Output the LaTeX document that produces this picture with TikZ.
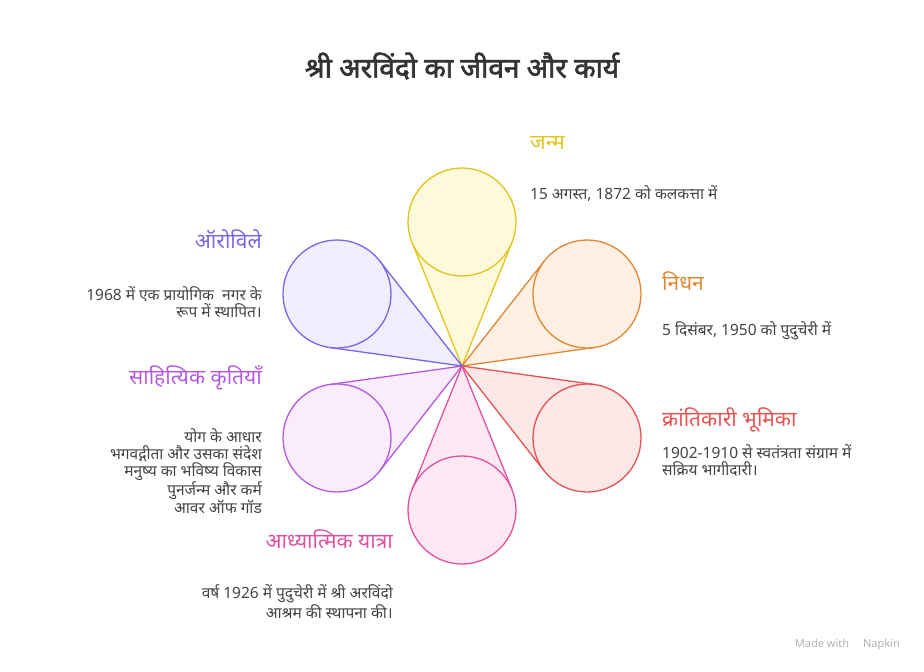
\documentclass[tikz,border=0pt]{standalone}
\usepackage{fontspec}
\setmainfont{Noto Sans}[Script=Devanagari]
\newfontfamily\grasfont{Noto Sans}[Script=Devanagari, FakeBold=2.2]
\usetikzlibrary{backgrounds,calc,positioning}
\definecolor{cJaune}{RGB}{226,196,26}
\definecolor{fJaune}{RGB}{255,249,219}
\definecolor{cOrange}{RGB}{224,135,50}
\definecolor{fOrange}{RGB}{255,240,227}
\definecolor{cRouge}{RGB}{229,83,83}
\definecolor{fRouge}{RGB}{253,232,232}
\definecolor{cRose}{RGB}{224,82,160}
\definecolor{fRose}{RGB}{253,232,244}
\definecolor{cMauve}{RGB}{180,90,224}
\definecolor{fMauve}{RGB}{249,236,253}
\definecolor{cViolet}{RGB}{120,104,230}
\definecolor{fViolet}{RGB}{240,238,253}
\definecolor{gris}{RGB}{68,68,68}
\definecolor{noir}{RGB}{51,51,51}
\tikzset{
  petale/.style={circle, minimum size=108pt, inner sep=0pt, outer sep=0pt, line width=1.3pt},
  titre/.style={inner sep=0pt, font=\fontsize{21}{25}\selectfont},
  texte/.style={inner sep=0pt, text=gris, font=\fontsize{15.5}{17}\selectfont},
  cone/.style={line width=1.3pt, line join=round}
}

\begin{document}
\begin{tikzpicture}[x=1pt,y=-1pt]
\useasboundingbox (0,0) rectangle (924,672);
\node [inner sep=0pt, text=noir, font=\grasfont\fontsize{28}{31}\selectfont] (entete) at (462,66) {श्री अरविंदो का जीवन और कार्य};
\coordinate (centre) at (462,366);
% les six petales
\node [petale, draw=cJaune, fill=fJaune] (noeud1) at (462,222) {};
\node [petale, draw=cOrange, fill=fOrange] (noeud2) at (587,294) {};
\node [petale, draw=cRouge, fill=fRouge] (noeud3) at (587,438) {};
\node [petale, draw=cRose, fill=fRose] (noeud4) at (462,510) {};
\node [petale, draw=cMauve, fill=fMauve] (noeud5) at (337,438) {};
\node [petale, draw=cViolet, fill=fViolet] (noeud6) at (337,294) {};
\coordinate (t1a) at (tangent cs:node=noeud1,point={(centre)},solution=1);
\coordinate (t1b) at (tangent cs:node=noeud1,point={(centre)},solution=2);
\coordinate (t2a) at (tangent cs:node=noeud2,point={(centre)},solution=1);
\coordinate (t2b) at (tangent cs:node=noeud2,point={(centre)},solution=2);
\coordinate (t3a) at (tangent cs:node=noeud3,point={(centre)},solution=1);
\coordinate (t3b) at (tangent cs:node=noeud3,point={(centre)},solution=2);
\coordinate (t4a) at (tangent cs:node=noeud4,point={(centre)},solution=1);
\coordinate (t4b) at (tangent cs:node=noeud4,point={(centre)},solution=2);
\coordinate (t5a) at (tangent cs:node=noeud5,point={(centre)},solution=1);
\coordinate (t5b) at (tangent cs:node=noeud5,point={(centre)},solution=2);
\coordinate (t6a) at (tangent cs:node=noeud6,point={(centre)},solution=1);
\coordinate (t6b) at (tangent cs:node=noeud6,point={(centre)},solution=2);
\begin{scope}[on background layer]
\fill[fJaune] (centre) -- (t1a) -- (t1b) -- cycle;
\fill[fOrange] (centre) -- (t2a) -- (t2b) -- cycle;
\fill[fRouge] (centre) -- (t3a) -- (t3b) -- cycle;
\fill[fRose] (centre) -- (t4a) -- (t4b) -- cycle;
\fill[fMauve] (centre) -- (t5a) -- (t5b) -- cycle;
\fill[fViolet] (centre) -- (t6a) -- (t6b) -- cycle;
\draw[cone, cJaune] (t1a) -- (centre) -- (t1b);
\draw[cone, cOrange] (t2a) -- (centre) -- (t2b);
\draw[cone, cRouge] (t3a) -- (centre) -- (t3b);
\draw[cone, cRose] (t4a) -- (centre) -- (t4b);
\draw[cone, cMauve] (t5a) -- (centre) -- (t5b);
\draw[cone, cViolet] (t6a) -- (centre) -- (t6b);
\end{scope}
% les textes
\node [titre, text=cJaune, anchor=west] (janm) at (530,143) {जन्म};
\node [texte, anchor=west] (janmtxt) at (530,194) {15 अगस्त, 1872 को कलकत्ता में};
\node [titre, text=cOrange, anchor=west] (nidhan) at (662,281) {निधन};
\node [texte, anchor=west] (nidhantxt) at (662,331) {5 दिसंबर, 1950 को पुदुचेरी में};
\node [titre, text=cRouge, anchor=west] (kranti) at (662,420) {क्रांतिकारी भूमिका};
\node [texte, anchor=west, align=left] (krantitxt) at (662,460.5) {1902-1910 से स्वतंत्रता संग्राम में\\सक्रिय भागीदारी।};
\node [titre, text=cRose, anchor=east] (yatra) at (393,539) {आध्यात्मिक यात्रा};
\node [texte, anchor=east, align=right] (yatratxt) at (393,601.5) {वर्ष 1926 में पुदुचेरी में श्री अरविंदो\\आश्रम की स्थापना की।};
\node [titre, text=cMauve, anchor=east] (kritiyan) at (262,378) {साहित्यिक कृतियाँ};
\node [texte, anchor=east, align=right] (kritiyantxt) at (262,471) {योग के आधार\\भगवद्गीता और उसका संदेश\\मनुष्य का भविष्य विकास\\पुनर्जन्म और कर्म\\आवर ऑफ गॉड};
\node [titre, text=cViolet, anchor=east] (auroville) at (262,239) {ऑरोविले};
\node [texte, anchor=east, align=right] (aurovilletxt) at (262,302.5) {1968 में एक प्रायोगिक\ \ नगर के\\रूप में स्थापित।};
\node [inner sep=0pt, anchor=east, text=gray!60, font=\fontsize{11}{13}\selectfont] (napkin) at (900,645) {Made with \quad Napkin};
\end{tikzpicture}
\end{document}
